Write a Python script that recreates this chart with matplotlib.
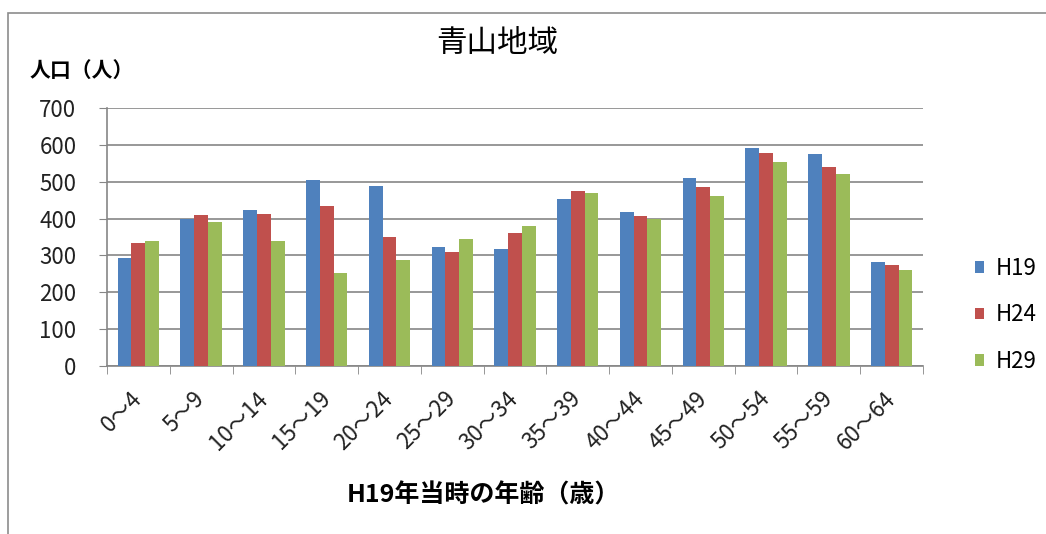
import numpy as np
import matplotlib
matplotlib.use("Agg")
import matplotlib.pyplot as plt
from matplotlib.patches import Rectangle

plt.rcParams['font.family'] = ['Noto Sans CJK JP', 'DejaVu Sans']

ages = ['0〜4', '5〜9', '10〜14', '15〜19', '20〜24', '25〜29', '30〜34',
        '35〜39', '40〜44', '45〜49', '50〜54', '55〜59', '60〜64']
h19 = [292, 399, 422, 505, 488, 322, 318, 453, 418, 509, 592, 575, 283]
h24 = [335, 409, 413, 435, 349, 309, 361, 474, 408, 487, 579, 539, 274]
h29 = [340, 391, 340, 253, 287, 344, 379, 470, 398, 461, 553, 522, 261]
series = ['H19', 'H24', 'H29']
colors = ['#4F81BD', '#C0504D', '#9BBB59']

fig = plt.figure(figsize=(10.46, 5.34), dpi=100)
# outer chart frame
fig.patches.append(Rectangle((8 / 1046, -0.1), 1.2, 1.1 - 13 / 534,
                             transform=fig.transFigure, fill=False,
                             edgecolor='#8c8c8c', linewidth=1.2))
ax = fig.add_axes([107 / 1046, 1 - 366 / 534, (923 - 107) / 1046, (366 - 108) / 534])

x = np.arange(len(ages))
w = 0.22
for i, (vals, name, c) in enumerate(zip([h19, h24, h29], series, colors)):
    ax.bar(x + (i - 1) * w, vals, width=w, color=c, label=name, zorder=3)

ax.set_xlim(-0.5, len(ages) - 0.5)
ax.set_ylim(0, 700)
ax.set_yticks(range(0, 701, 100))
ax.yaxis.grid(True, color='#868686', linewidth=1.2, zorder=0)
for s in ['top', 'right']:
    ax.spines[s].set_visible(False)
for s in ['left', 'bottom']:
    ax.spines[s].set_color('#868686')
    ax.spines[s].set_linewidth(1.2)
ax.tick_params(axis='y', length=6, color='#868686', labelsize=16, pad=16,
               labelcolor='#222222')
ax.set_xticks(np.arange(len(ages) + 1) - 0.5, minor=True)
ax.set_xticks(x)
ax.tick_params(axis='x', which='major', length=0, labelsize=16, pad=21,
               labelcolor='#222222')
ax.tick_params(axis='x', which='minor', length=6, color='#868686')
ax.set_xticklabels(ages, rotation=45, ha='right', va='center',
                   rotation_mode='anchor')

fig.text(497 / 1046, 1 - 44 / 534, '青山地域', fontsize=22, ha='center', va='center')
fig.text(30 / 1046, 1 - 70 / 534, '人口（人）', fontsize=15, fontweight='bold',
         ha='left', va='center')
fig.text(483 / 1046, 1 - 495 / 534, 'H19年当時の年齢（歳）', fontsize=18,
         fontweight='bold', ha='center', va='center')

fig.legend(loc='upper left', bbox_to_anchor=(964 / 1046, 1 - 246 / 534),
           frameon=False, fontsize=16, borderpad=0, handlelength=0.42,
           handleheight=0.42, labelspacing=1.05, handletextpad=0.5)

fig.savefig('out.png', dpi=100)
